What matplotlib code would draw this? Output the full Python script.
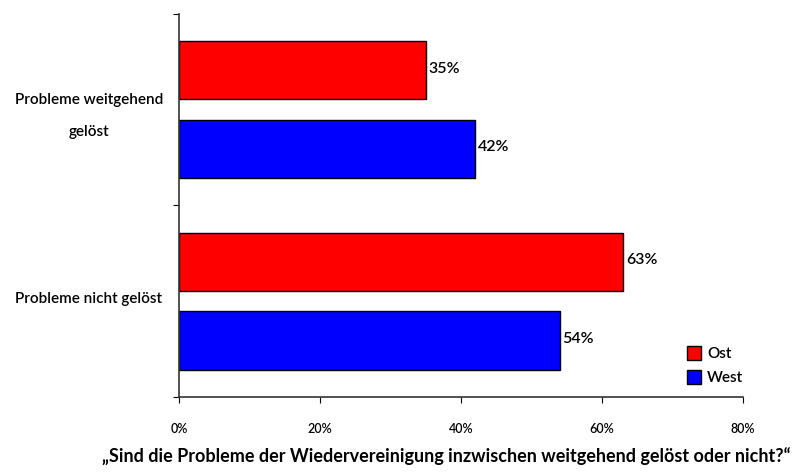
import matplotlib.pyplot as plt
from matplotlib.patches import Patch

categories = ["Probleme weitgehend\ngelöst", "Probleme nicht gelöst"]
ost = [35, 63]
west = [42, 54]
xticks = [0, 20, 40, 60, 80]

plt.rcParams['font.family'] = ['Lato', 'DejaVu Sans']

fig = plt.figure(figsize=(8.01, 4.76), dpi=100)
ax = fig.add_axes([0.2235, 0.166, 0.7041, 0.8046])

centers = [i + 0.5 for i in range(len(categories))]
h = 0.303
off = 0.205
y_ost = [c - off for c in centers]
y_west = [c + off for c in centers]
ax.barh(y_ost, ost, height=h, color='#ff0000', edgecolor='black', linewidth=1, label='Ost')
ax.barh(y_west, west, height=h, color='#0000ff', edgecolor='black', linewidth=1, label='West')

for y, v in zip(y_ost, ost):
    ax.text(v + 0.4, y - 0.01, f"{v}%", va='center', ha='left', fontsize=11.5, fontweight='semibold')
for y, v in zip(y_west, west):
    ax.text(v + 0.4, y - 0.01, f"{v}%", va='center', ha='left', fontsize=11.5, fontweight='semibold')

ax.set_xlim(0, 80)
ax.set_ylim(len(categories), 0)
ax.set_xticks(xticks)
ax.set_xticklabels([f"{t}%" for t in xticks], fontsize=9, fontweight='semibold')
ax.tick_params(axis='x', direction='out', length=4.5, pad=14)

# boundary ticks on the y axis, category names in between
ax.set_yticks(range(len(categories) + 1))
ax.set_yticklabels([])
ax.set_yticks([c - 0.02 for c in centers], minor=True)
ax.set_yticklabels(categories, minor=True, fontsize=11, fontweight='semibold', ha='center', linespacing=2.6)
ax.tick_params(axis='y', which='major', direction='out', length=4.5)
ax.tick_params(axis='y', which='minor', length=0, pad=65)

for s in ['top', 'right']:
    ax.spines[s].set_visible(False)
for s in ['left', 'bottom']:
    ax.spines[s].set_color('#333333')
    ax.spines[s].set_linewidth(1.2)

handles = [Patch(facecolor='#ff0000', edgecolor='black', label='Ost'),
           Patch(facecolor='#0000ff', edgecolor='black', label='West')]
ax.legend(handles=handles, loc='lower right', bbox_to_anchor=(1.025, -0.005), frameon=False,
          handlelength=0.9, handleheight=1.0, handletextpad=0.4, labelspacing=0.6,
          prop={'size': 11, 'weight': 'semibold'})

fig.text(0.557, 0.040, "„Sind die Probleme der Wiedervereinigung inzwischen weitgehend gelöst oder nicht?“",
         ha='center', va='center', fontsize=13, fontweight='bold')

fig.savefig('out.png', dpi=100)
